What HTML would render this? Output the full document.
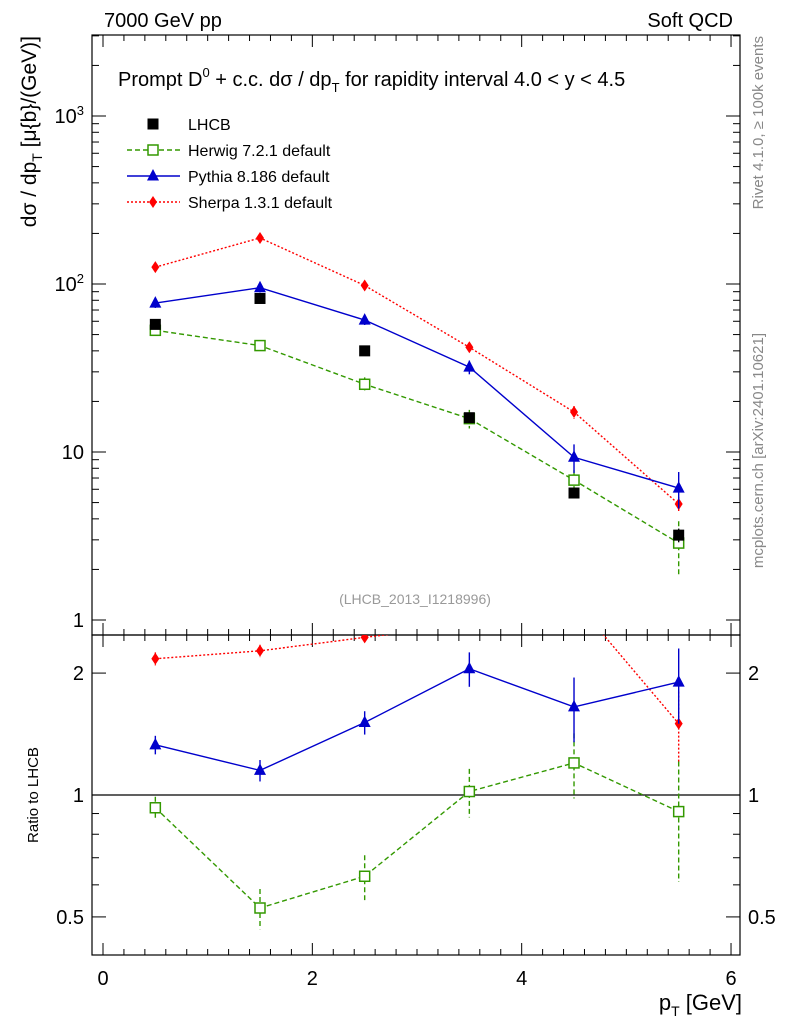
<!DOCTYPE html>
<html><head><meta charset="utf-8"><style>
body{margin:0;background:#fff}
svg{display:block;font-family:"Liberation Sans",sans-serif}
</style></head><body>
<svg id="c" width="786" height="1024"></svg>
<script>
const xcats=[0.5,1.5,2.5,3.5,4.5,5.5];
const lhcb=[57.5,82,40,16,5.7,3.2];
const lhcbErr=[3,5,2,1,0.4,0.3];
const herwig=[53,43,25.3,15.8,6.8,2.87];
const herwigErr=[3,3,2.5,2,1,1];
const pythia=[77,95,61,32,9.3,6.1];
const pythiaErr=[5,6,4,3,1.8,1.5];
const sherpa=[126,188,98,42,17.3,4.9];
const sherpaErr=[5,6,3,2,1.5,0.5];
const rHerwig=[0.93,0.526,0.63,1.02,1.2,0.91];
const rHerwigErr=[0.06,0.06,0.08,0.14,0.22,0.3];
const rPythia=[1.33,1.15,1.51,2.05,1.65,1.9];
const rPythiaErr=[0.07,0.07,0.1,0.2,0.3,0.4];
const rSherpa=[2.17,2.27,2.45,2.63,3.03,1.5];
const rSherpaErr=[0.08,0.08,0.08,0.1,0.2,0.3];
const xTicks=[0,2,4,6];

const NS="http://www.w3.org/2000/svg";
const svg=document.getElementById('c');
const L=92,R=740,T1=35,B1=635,B2=955;
const X=v=>103+v*104.67;
const Y1=v=>620-Math.log10(v)*168;
const Y2=v=>795-Math.log10(v)*405;
function el(t,a,p){const e=document.createElementNS(NS,t);for(const k in a)e.setAttribute(k,a[k]);(p||svg).appendChild(e);return e;}
function txt(x,y,s,a,p){const e=el('text',Object.assign({x:x,y:y,'font-size':18},a||{}),p);e.innerHTML=s;return e;}

const defs=el('defs',{});
const c1=el('clipPath',{id:'cl1'},defs);el('rect',{x:L,y:T1,width:R-L,height:B1-T1},c1);
const c2=el('clipPath',{id:'cl2'},defs);el('rect',{x:L,y:B1,width:R-L,height:B2-B1},c2);

const f1=el('rect',{x:L,y:T1,width:R-L,height:B1-T1,fill:'none',stroke:'#000','stroke-width':1.2});

const f2=el('rect',{x:L,y:B1,width:R-L,height:B2-B1,fill:'none',stroke:'#000','stroke-width':1.2});


for(let v=0;v<=6.01;v+=0.2){const x=X(v);const maj=Math.abs(v/2-Math.round(v/2))<1e-6;const l=maj?12:6;
 [[T1,1],[B1,-1],[B1,1],[B2,-1]].forEach(([y,d])=>el('line',{x1:x,x2:x,y1:y,y2:y+d*l,stroke:'#000'}));}
xTicks.forEach(v=>{const t=txt(X(v),985,v,{'text-anchor':'middle','font-size':20});});

for(let d=0;d<4;d++)for(let m=1;m<10;m++){const v=m*Math.pow(10,d);const y=Y1(v);if(y<T1||y>B1)continue;const l=m==1?14:7;
 el('line',{x1:L,x2:L+l,y1:y,y2:y,stroke:'#000'});el('line',{x1:R,x2:R-l,y1:y,y2:y,stroke:'#000'});}
[['1',1],['10',10],['10<tspan dy="-8" font-size="13">2</tspan>',100],['10<tspan dy="-8" font-size="13">3</tspan>',1000]].forEach(([s,v])=>{const t=txt(84,Y1(v)+7,s,{'text-anchor':'end','font-size':20});});
[0.5,0.6,0.7,0.8,0.9,1,2].forEach(v=>{const y=Y2(v);const l=(v==1||v==2||v==0.5)?14:7;
 el('line',{x1:L,x2:L+l,y1:y,y2:y,stroke:'#000'});el('line',{x1:R,x2:R-l,y1:y,y2:y,stroke:'#000'});});
[['0.5',0.5],['1',1],['2',2]].forEach(([s,v])=>{txt(84,Y2(v)+7,s,{'text-anchor':'end','font-size':20});txt(748,Y2(v)+7,s,{'font-size':20});});
el('line',{x1:L,x2:R,y1:Y2(1),y2:Y2(1),stroke:'#000','stroke-width':1.2});

function series(vals,errs,Y,clip,col,dash,marker,name){
 const g=el('g',{'clip-path':'url(#'+clip+')'});
 
 if(dash!==null)el('polyline',{points:xcats.map((x,i)=>X(x)+','+Y(vals[i])).join(' '),fill:'none',stroke:col,'stroke-width':1.4,'stroke-dasharray':dash},g);
 xcats.forEach((x,i)=>{const cx=X(x),cy=Y(vals[i]);
  el('line',{x1:cx,x2:cx,y1:Y(vals[i]+errs[i]),y2:Y(Math.max(vals[i]-errs[i],0.01)),stroke:col,'stroke-width':1.4,'stroke-dasharray':dash||''},g);
  let m;
  if(marker=='sq')m=el('rect',{x:cx-5.5,y:cy-5.5,width:11,height:11,fill:col},g);
  else if(marker=='osq')m=el('rect',{x:cx-5,y:cy-5,width:10,height:10,fill:'#fff',stroke:col,'stroke-width':1.5},g);
  else if(marker=='tri')m=el('polygon',{points:`${cx},${cy-7} ${cx-6},${cy+4.5} ${cx+6},${cy+4.5}`,fill:col},g);
  else m=el('polygon',{points:`${cx},${cy-6} ${cx-4},${cy} ${cx},${cy+6} ${cx+4},${cy}`,fill:col},g);
  });
}
series(sherpa,sherpaErr,Y1,'cl1','#f00','2,2','dia','sherpa-series');
series(herwig,herwigErr,Y1,'cl1','#390','5,3','osq','herwig-series');
series(pythia,pythiaErr,Y1,'cl1','#00c','','tri','pythia-series');
series(lhcb,lhcbErr,Y1,'cl1','#000',null,'sq','lhcb-data');
series(rSherpa,rSherpaErr,Y2,'cl2','#f00','2,2','dia','sherpa-ratio');
series(rHerwig,rHerwigErr,Y2,'cl2','#390','5,3','osq','herwig-ratio');
series(rPythia,rPythiaErr,Y2,'cl2','#00c','','tri','pythia-ratio');

const leg=[['LHCB','#000',null,'sq'],['Herwig 7.2.1 default','#390','5,3','osq'],['Pythia 8.186 default','#00c','','tri'],['Sherpa 1.3.1 default','#f00','2,2','dia']];
leg.forEach((l,i)=>{const y=124+i*26;const g=el('g',{});
 if(l[2]!==null)el('line',{x1:127,x2:180,y1:y,y2:y,stroke:l[1],'stroke-width':1.4,'stroke-dasharray':l[2]},g);
 const cx=153;
 if(l[3]=='sq')el('rect',{x:cx-5.5,y:y-5.5,width:11,height:11,fill:l[1]},g);
 else if(l[3]=='osq')el('rect',{x:cx-5,y:y-5,width:10,height:10,fill:'#fff',stroke:l[1],'stroke-width':1.5},g);
 else if(l[3]=='tri')el('polygon',{points:`${cx},${y-7} ${cx-6},${y+4.5} ${cx+6},${y+4.5}`,fill:l[1]},g);
 else el('polygon',{points:`${cx},${y-6} ${cx-4},${y} ${cx},${y+6} ${cx+4},${y}`,fill:l[1]},g);
 txt(188,y+6,l[0],{'font-size':16},g);});

let t;
t=txt(104,27,'7000 GeV pp',{'font-size':20});
t=txt(733,27,'Soft QCD',{'font-size':20,'text-anchor':'end'});
t=txt(118,86,'Prompt D<tspan dy="-9" font-size="13">0</tspan><tspan dy="9"> + c.c.  dσ / dp</tspan><tspan dy="6" font-size="13">T</tspan><tspan dy="-6"> for rapidity interval 4.0 &lt; y &lt; 4.5</tspan>',{'font-size':20});

t=txt(415,604,'(LHCB_2013_I1218996)',{'font-size':14,'text-anchor':'middle',fill:'#999'});
t=txt(0,0,'dσ / dp<tspan dy="6" font-size="14">T</tspan><tspan dy="-6"> [μ{b}/(GeV)]</tspan>',{'font-size':21,'text-anchor':'end',transform:'translate(36,36) rotate(-90)'});

t=txt(0,0,'Ratio to LHCB',{'font-size':15,'text-anchor':'middle',transform:'translate(38,795) rotate(-90)'});
t=txt(742,1010,'p<tspan dy="6" font-size="14">T</tspan><tspan dy="-6"> [GeV]</tspan>',{'font-size':22,'text-anchor':'end'});
t=txt(0,0,'Rivet 4.1.0, ≥ 100k events',{'font-size':15,fill:'#888','text-anchor':'end',transform:'translate(763,36) rotate(-90)'});
t=txt(0,0,'mcplots.cern.ch [arXiv:2401.10621]',{'font-size':15,fill:'#888','text-anchor':'end',transform:'translate(763,333) rotate(-90)'});
</script>
</body></html>
